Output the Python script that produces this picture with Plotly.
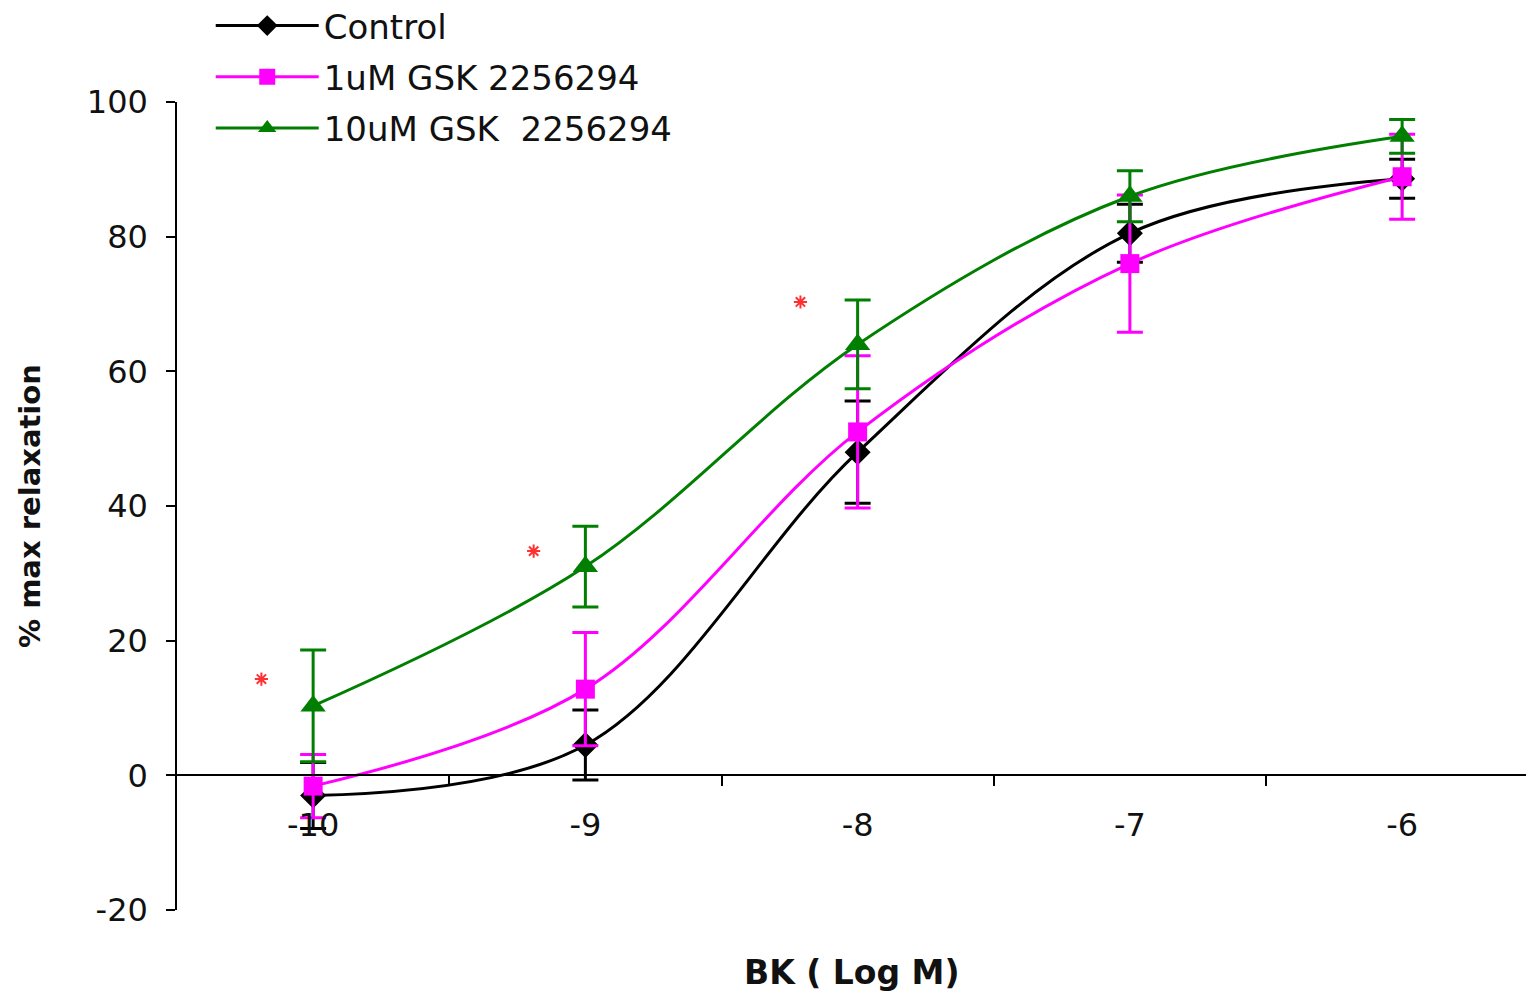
import plotly.graph_objects as go

# ---- data ----
x_log = [-10, -9, -8, -7, -6]
control = [-3.0, 4.5, 48.0, 80.5, 88.6]
control_err = [4.9, 5.2, 7.6, 4.3, 2.9]
gsk1 = [-1.6, 12.8, 51.0, 76.0, 88.9]
gsk1_err = [4.7, 8.4, 11.3, 10.2, 6.3]
gsk10 = [10.3, 31.0, 64.0, 86.0, 94.9]
gsk10_err = [8.3, 6.0, 6.6, 3.8, 2.5]
sig_x = [-10.19, -9.19, -8.21]
sig_y = [14.3, 33.3, 70.3]
x_labels = ["-10", "-9", "-8", "-7", "-6"]
x_minor = [-9.5, -8.5, -7.5, -6.5]
y_ticks = [-20, 0, 20, 40, 60, 80, 100]
y_labels = ["-20", "0", "20", "40", "60", "80", "100"]

series = [
    ("Control", control, control_err, "black", "diamond", 20),
    ("1uM GSK 2256294", gsk1, gsk1_err, "#ff00ff", "square", 19),
    ("10uM GSK  2256294", gsk10, gsk10_err, "#007f00", "triangle-up", 22),
]

fig = go.Figure()
for i, (name, vals, errs, col, sym, size) in enumerate(series):
    fig.add_trace(go.Scatter(
        x=x_log, y=vals, name=name, mode="lines+markers",
        line=dict(color=col, width=3, shape="spline", smoothing=1.0),
        marker=dict(symbol=sym, size=size, color=col),
        error_y=dict(type="data", array=errs, visible=True, color=col,
                     thickness=3, width=13),
        legendgroup=f"g{i}",
    ))

fig.add_trace(go.Scatter(
    x=sig_x, y=sig_y, mode="markers", showlegend=False,
    marker=dict(symbol="asterisk-open", size=11, color="#ff3030",
                line=dict(width=2, color="#ff3030")),
))

font_family = "DejaVu Sans, Liberation Sans, Arial, sans-serif"

fig.update_layout(
    width=1526, height=991,
    margin=dict(l=177, r=0, t=102, b=81, autoexpand=False),
    paper_bgcolor="white", plot_bgcolor="white",
    font=dict(family=font_family, size=32, color="#111111"),
    showlegend=True,
    legend=dict(
        x=0.025, y=1.13, xanchor="left", yanchor="top",
        traceorder="grouped", tracegroupgap=4,
        font=dict(size=34, color="#111111"),
        itemwidth=103, bgcolor="rgba(0,0,0,0)",
    ),
    xaxis=dict(
        range=[-10.5, -5.545], anchor="free", position=1/6,
        showline=True, linecolor="black", linewidth=1.5,
        showgrid=False, zeroline=False,
        tickmode="array", tickvals=x_log, ticktext=x_labels,
        ticks="", ticklabelstandoff=22,
        minor=dict(tickmode="array", tickvals=x_minor, ticks="outside",
                   ticklen=10, tickcolor="black", tickwidth=1.5, showgrid=False),
    ),
    yaxis=dict(
        range=[-20, 100], showline=True, linecolor="black", linewidth=1.5,
        showgrid=False, zeroline=False,
        tickmode="array", tickvals=y_ticks, ticktext=y_labels,
        ticks="outside", ticklen=9, tickcolor="black", tickwidth=1.5,
        ticklabelstandoff=12,
    ),
    annotations=[
        dict(text="<b>BK ( Log M)</b>", x=0.5, y=0, xref="paper", yref="paper",
             xanchor="center", yanchor="top", yshift=-41, showarrow=False,
             font=dict(size=33, color="#111111")),
        dict(text="<b>% max relaxation</b>", x=0, y=0.5, xref="paper", yref="paper",
             xanchor="center", yanchor="middle", xshift=-147, textangle=-90,
             showarrow=False, font=dict(size=29, color="#111111")),
    ],
)

fig.write_html("out.html")
